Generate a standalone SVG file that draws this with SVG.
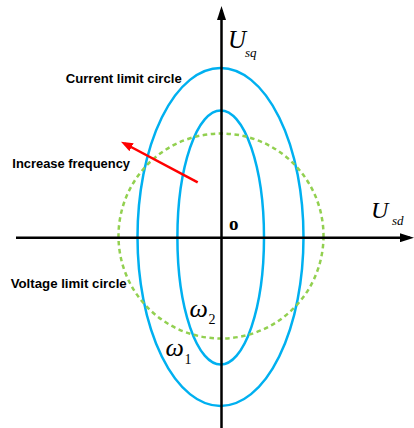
<svg xmlns="http://www.w3.org/2000/svg" width="414" height="428" viewBox="0 0 414 428">
<style>
.ax{stroke:#000;stroke-width:2.5;fill:none}
.cur{stroke:#00B0F0;stroke-width:2.5;fill:none}
.vol{stroke:#92D050;stroke-width:2.5;fill:none;stroke-dasharray:4.5 3.5}
.lbl{font-family:"Liberation Sans",Arial,sans-serif;font-weight:bold;font-size:13px;fill:#000}
.math{font-family:"Liberation Serif","Times New Roman",serif;font-style:italic;fill:#000}
.num{font-family:"Liberation Serif","Times New Roman",serif;fill:#000}
</style>
<defs>
<marker id="ah" viewBox="0 0 14 9" refX="10" refY="4.5" markerWidth="14" markerHeight="9" orient="auto" markerUnits="userSpaceOnUse">
<path d="M0,0 L14,4.5 L0,9 z" fill="#000"/>
</marker>
<marker id="rh" viewBox="0 0 12 9" refX="8" refY="4.5" markerWidth="12" markerHeight="9" orient="auto" markerUnits="userSpaceOnUse">
<path d="M0,0 L12,4.5 L0,9 z" fill="#FF0000"/>
</marker>
</defs>
<rect width="414" height="428" fill="#fff"/>
<g id="curves">
<ellipse id="omega1" class="cur" cx="220.5" cy="237" rx="83" ry="169"/>
<ellipse id="omega2" class="cur" cx="220.7" cy="237.5" rx="43.3" ry="127"/>
<circle id="voltage" class="vol" cx="221" cy="236" r="102.5"/>
</g>
<g id="axes">
<line class="ax" x1="221.5" y1="428" x2="221.5" y2="10" marker-end="url(#ah)"/>
<line class="ax" x1="16" y1="237.7" x2="410" y2="237.7" marker-end="url(#ah)"/>
</g>
<g id="arrow">
<line x1="197.7" y1="182.3" x2="124.5" y2="143.5" stroke="#FF0000" stroke-width="2.5" marker-end="url(#rh)"/>
</g>
<g id="labels">
<text class="lbl" x="65.7" y="82.7" textLength="116" lengthAdjust="spacingAndGlyphs">Current limit circle</text>
<text class="lbl" x="12.3" y="168.3" textLength="117.7" lengthAdjust="spacingAndGlyphs">Increase frequency</text>
<text class="lbl" x="10.7" y="288.3" textLength="116" lengthAdjust="spacingAndGlyphs">Voltage limit circle</text>
<text class="num" x="229" y="230" font-weight="bold" font-size="19">o</text>
<text class="math" x="228" y="48" font-size="25">U</text>
<text class="math" x="245" y="56.5" font-size="13">sq</text>
<text class="math" x="371" y="218.3" font-size="24">U</text>
<text class="math" x="392" y="225" font-size="13">sd</text>
<text class="math" x="189.5" y="316.5" font-size="26">ω</text>
<text class="num" x="208.5" y="324.3" font-size="14">2</text>
<text class="math" x="165.5" y="356" font-size="26">ω</text>
<text class="num" x="184.5" y="364" font-size="14">1</text>
</g>
</svg>
